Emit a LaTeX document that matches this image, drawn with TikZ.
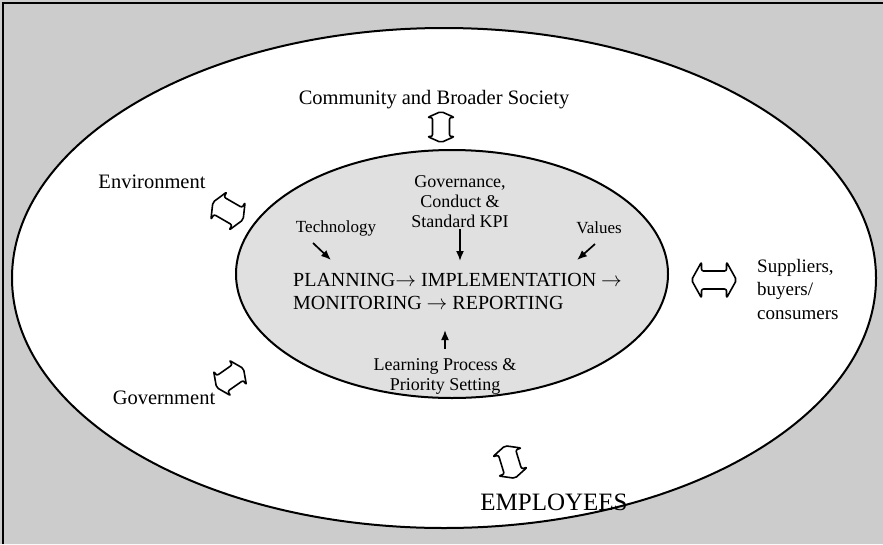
\documentclass[tikz,border=0pt]{standalone}
\usepackage{fontspec}
\setmainfont{Liberation Serif}
\usetikzlibrary{arrows.meta}

\tikzset{
  % hollow two-headed arrow: #1 length, #2 shaft width, #3 head width, #4 head depth
  pics/dblarrow/.style n args={4}{code={
    \draw[hollowarrow]
      ({-#1/2},0) -- ({-#1/2+#4},{#3/2}) -- ({-#1/2+#4},{#2/2})
      -- ({#1/2-#4},{#2/2}) -- ({#1/2-#4},{#3/2}) -- ({#1/2},0)
      -- ({#1/2-#4},{-#3/2}) -- ({#1/2-#4},{-#2/2})
      -- ({-#1/2+#4},{-#2/2}) -- ({-#1/2+#4},{-#3/2}) -- cycle;
  }},
  hollowarrow/.style={line width=1.6pt, fill=white, rounded corners=2pt, line join=round},
  ring/.style={line width=2pt},
  lbl/.style={font=\fontsize{18}{20}\selectfont, align=center, inner sep=0pt},
  biglbl/.style={font=\fontsize{20.5}{23}\selectfont, inner sep=0pt},
  flowtext/.style={font=\fontsize{20}{23}\selectfont, align=left, inner sep=0pt},
  influence/.style={line width=1.7pt, -{Latex[length=10pt,width=8pt]}},
}

\begin{document}
\begin{tikzpicture}[x=1pt,y=-1pt]
\useasboundingbox (0,0) rectangle (883,544);

% paper and stippled surround
\fill[white] (0,0) rectangle (883,544);
\fill[black!20, even odd rule] (0,0) rectangle (883,544)
  (444,278) ellipse [x radius=432, y radius=250];
\draw[line width=2.5pt] (3,544) -- (3,3) -- (883,3);

% society ring and organisation core
\draw[ring] (444,278) ellipse [x radius=432, y radius=250];
\filldraw[ring, fill=black!12] (452,274) ellipse [x radius=216, y radius=124];

% outer stakeholders
\node[biglbl] (community) at (434,100) {Community and Broader Society};
\node[biglbl] (environment) at (152,182) {Environment};
\node[biglbl] (government) at (164,398) {Government};
\node[flowtext, font=\fontsize{19}{23.5}\selectfont, anchor=west] (suppliers) at (757,289)
  {Suppliers,\\buyers/\\consumers};
\node[inner sep=0pt, font=\fontsize{25}{28}\selectfont] (employees) at (554,502) {EMPLOYEES};

% two-way exchanges with the core
\pic[rotate=90] (commarrow) at (441,127) {dblarrow={31}{17}{27}{6}};
\pic[rotate=-30] (envarrow) at (228,211) {dblarrow={35}{20}{32}{7}};
\pic[rotate=35] (govarrow) at (230,378) {dblarrow={33}{19}{30}{7}};
\pic[rotate=0] (supparrow) at (714,280) {dblarrow={45}{18}{36}{10}};
\pic[rotate=107] (emparrow) at (510,462) {dblarrow={34}{18}{30}{7}};

% core process and its drivers
\node[lbl] (governance) at (460,202) {Governance,\\Conduct \&\\Standard KPI};
\node[lbl, font=\fontsize{17}{20}\selectfont] (technology) at (336,228) {Technology};
\node[lbl, font=\fontsize{17}{20}\selectfont] (values) at (599,228) {Values};
\node[flowtext, anchor=west] (flow) at (293,291)
  {PLANNING$\rightarrow$ IMPLEMENTATION $\rightarrow$\\MONITORING $\rightarrow$ REPORTING};
\node[lbl] (learning) at (445,376) {Learning Process \&\\Priority Setting};

\coordinate (govtail) at (460,229);
\coordinate (govtip) at (460,261);
\coordinate (techtail) at (313,243);
\coordinate (techtip) at (331,260);
\coordinate (valtail) at (595,244);
\coordinate (valtip) at (577,260);
\coordinate (learntail) at (445,349);
\coordinate (learntip) at (445,330);

\draw[influence] (govtail) -- (govtip);
\draw[influence] (techtail) -- (techtip);
\draw[influence] (valtail) -- (valtip);
\draw[influence] (learntail) -- (learntip);
\end{tikzpicture}
\end{document}
